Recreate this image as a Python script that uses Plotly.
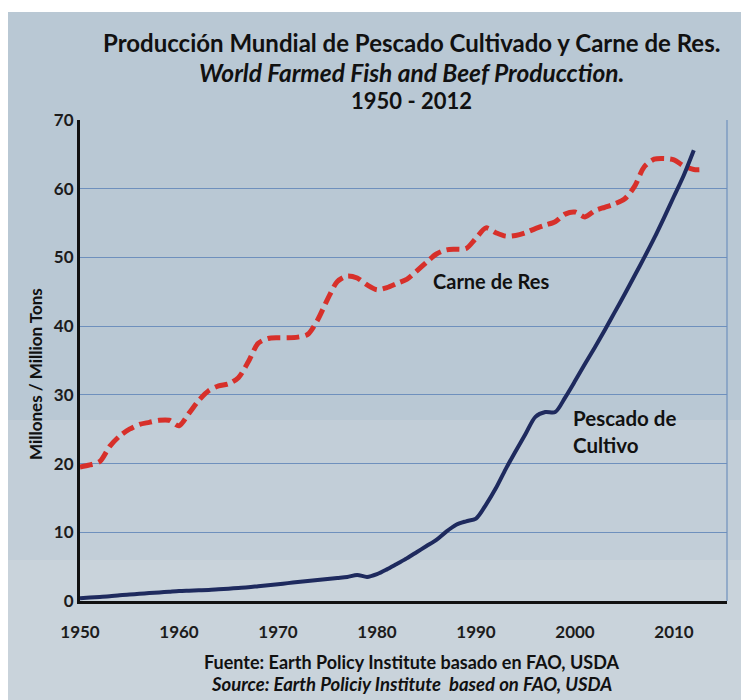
import plotly.graph_objects as go

years_beef = list(range(1950, 2014))
beef = [19.5, 19.8, 20.3, 22.5, 24.0, 25.0, 25.7, 26.0, 26.3, 26.3,
        25.5, 27.3, 29.2, 30.6, 31.3, 31.6, 32.5, 34.8, 37.5, 38.2,
        38.3, 38.3, 38.4, 38.8, 40.9, 43.9, 46.5, 47.3, 47.0, 46.0,
        45.3, 45.6, 46.2, 46.8, 48.0, 49.3, 50.5, 51.1, 51.2, 51.3,
        52.8, 54.3, 53.6, 53.1, 53.2, 53.6, 54.2, 54.7, 55.2, 56.3,
        56.6, 55.9, 56.8, 57.3, 57.8, 58.5, 60.3, 63.2, 64.3, 64.4,
        64.2, 63.3, 62.8, 62.8]

years_fish = list(range(1950, 2013))
fish = [0.4, 0.5, 0.6, 0.7, 0.85, 0.95, 1.05, 1.15, 1.25, 1.35,
        1.45, 1.5, 1.55, 1.6, 1.7, 1.8, 1.9, 2.0, 2.15, 2.3,
        2.45, 2.6, 2.75, 2.9, 3.05, 3.2, 3.35, 3.5, 3.8, 3.5,
        3.9, 4.6, 5.4, 6.2, 7.1, 8.0, 8.9, 10.1, 11.1, 11.6,
        12.0, 14.0, 16.4, 19.2, 21.8, 24.3, 26.8, 27.5, 27.5, 29.6,
        32.0, 34.5, 36.9, 39.4, 42.0, 44.6, 47.3, 50.0, 52.8, 55.8,
        58.9, 62.0, 65.6]

x_ticks = [1950, 1960, 1970, 1980, 1990, 2000, 2010]
y_ticks = [0, 10, 20, 30, 40, 50, 60, 70]

title_lines = ["Producción Mundial de Pescado Cultivado y Carne de Res.",
               "World Farmed Fish and Beef Producction.",
               "1950 - 2012"]
source_lines = ["Fuente: Earth Policy Institute basado en FAO, USDA",
                "Source: Earth Policiy Institute  based on FAO, USDA"]
beef_label = "Carne de Res"
fish_label = "Pescado de<br>Cultivo"
y_title = "Millones / Million Tons"

W, H = 741, 700
L, R, T, B = 80, 727, 120, 601


def px(xp):
    return (xp - L) / (R - L)


def py(yp):
    return (B - yp) / (B - T)


fig = go.Figure()
fig.add_trace(go.Scatter(x=years_beef, y=beef, mode="lines",
                         line=dict(color="#d7302a", width=5, dash="13px,6px",
                                   shape="spline", smoothing=0.8),
                         name="Carne de Res"))
fig.add_trace(go.Scatter(x=years_fish, y=fish, mode="lines",
                         line=dict(color="#1e2a5e", width=4,
                                   shape="spline", smoothing=0.8),
                         name="Pescado de Cultivo"))

font_main = "Lato, Open Sans, sans-serif"
tick_font = dict(family="Lato, Liberation Sans, sans-serif", size=17,
                 color="#1c1c1c", weight="bold")

fig.update_layout(
    width=W, height=H,
    margin=dict(l=L, r=W - R, t=T, b=H - B),
    paper_bgcolor="white",
    plot_bgcolor="rgba(0,0,0,0)",
    showlegend=False,
    xaxis=dict(range=[1950, 1950 + (R - L) / 9.9], tickvals=x_ticks,
               showgrid=False, zeroline=False, showline=True,
               linecolor="#111111", linewidth=3, ticks="",
               tickfont=tick_font, ticklabelstandoff=14),
    yaxis=dict(range=[0, 70], tickvals=y_ticks, showgrid=True,
               gridcolor="#6e90bd", gridwidth=1.2, zeroline=False,
               showline=True, linecolor="#111111", linewidth=3,
               ticks="", tickfont=tick_font, ticklabelstandoff=0),
)

# background (water-like blue-gray panel)
fig.add_shape(type="rect", xref="paper", yref="paper",
              x0=px(8), x1=px(741), y0=py(700), y1=py(12),
              fillcolor="#b9c8d4", line=dict(width=0), layer="below")
fig.add_shape(type="rect", xref="paper", yref="paper",
              x0=px(8), x1=px(741), y0=py(700), y1=py(560),
              fillcolor="#c9d3db", line=dict(width=0), layer="below")
fig.add_shape(type="rect", xref="paper", yref="paper",
              x0=px(8), x1=px(741), y0=py(560), y1=py(420),
              fillcolor="#c2ced8", line=dict(width=0), layer="below")
# right border of plot
fig.add_shape(type="line", xref="paper", yref="paper",
              x0=1, x1=1, y0=0, y1=1,
              line=dict(color="#6e90bd", width=1.2))

ann = []
title_y = [42, 72, 101]
styles = ["normal", "italic", "normal"]
sizes = [24, 24.5, 22]
for txt, yy, st, sz in zip(title_lines, title_y, styles, sizes):
    ann.append(dict(text=txt, x=px(411), y=py(yy), xref="paper", yref="paper",
                    showarrow=False, xanchor="center", yanchor="middle",
                    font=dict(family=font_main, size=sz, color="#111111",
                              style=st, weight="bold")))
for txt, yy, st, sz in zip(source_lines, [662, 684], ["normal", "italic"], [18, 18.5]):
    ann.append(dict(text=txt, x=px(411), y=py(yy), xref="paper", yref="paper",
                    showarrow=False, xanchor="center", yanchor="middle",
                    font=dict(family=font_main, size=sz, color="#111111",
                              style=st, weight="bold")))
ann.append(dict(text=beef_label, x=px(431), y=py(281), xref="paper", yref="paper",
                showarrow=False, xanchor="left", yanchor="middle",
                font=dict(family=font_main, size=20, color="#111111", weight="bold")))
ann.append(dict(text=fish_label, x=px(571), y=py(431), xref="paper", yref="paper",
                showarrow=False, xanchor="left", yanchor="middle", align="left",
                font=dict(family=font_main, size=20.5, color="#111111", weight="bold")))
ann.append(dict(text=y_title, x=px(35), y=py(374), xref="paper", yref="paper",
                showarrow=False, textangle=-90, xanchor="center", yanchor="middle",
                font=dict(family=font_main, size=17, color="#111111", weight="bold")))
fig.update_layout(annotations=ann)

fig.write_html("out.html", config={"displayModeBar": False},
               post_script="document.body.style.margin='0';")
